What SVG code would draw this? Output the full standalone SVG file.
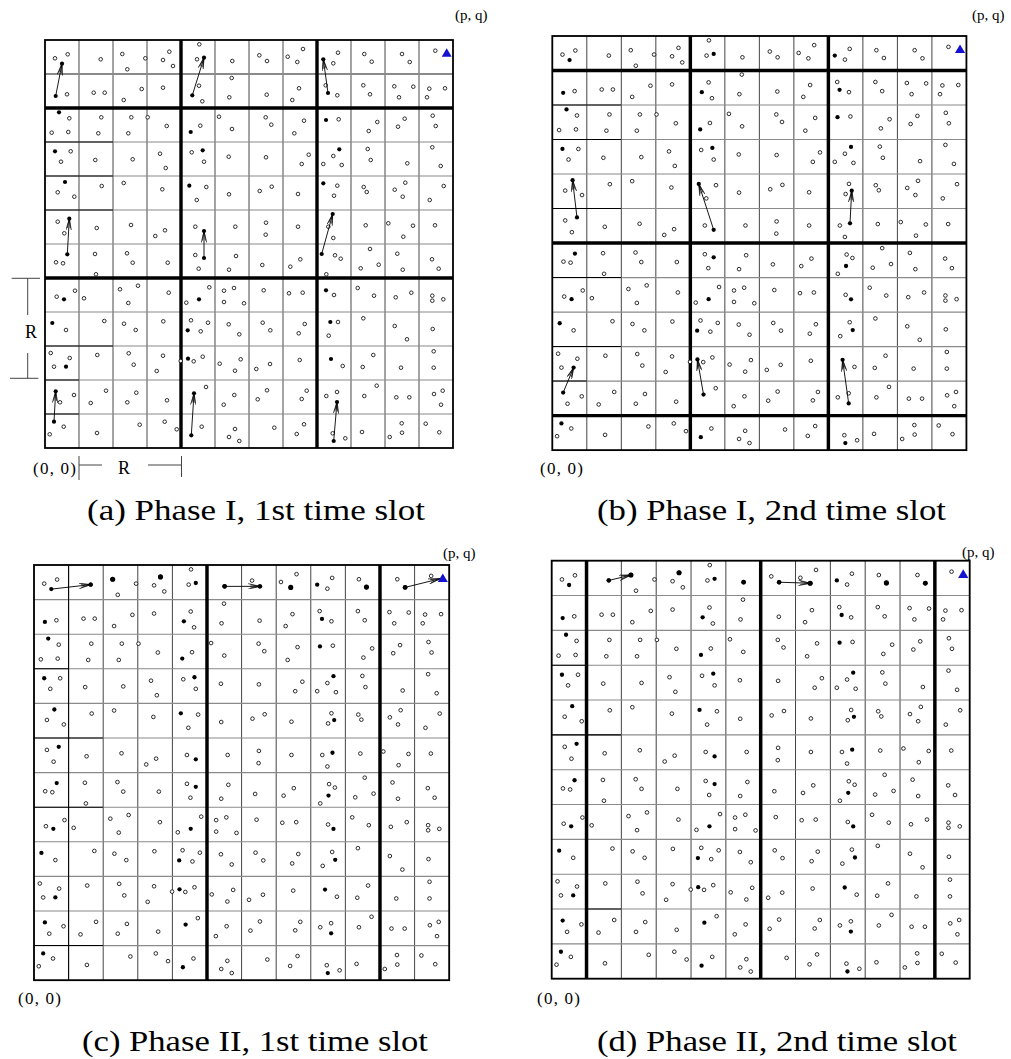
<svg xmlns="http://www.w3.org/2000/svg" xmlns:xlink="http://www.w3.org/1999/xlink" width="1011" height="1059" viewBox="0 0 1011 1059">
<style>
.o{fill:#fff;stroke:#000;stroke-width:0.8}
.f{fill:#000}
.gv{fill:none;stroke:#333;stroke-width:0.9}
.gh{fill:none;stroke:#8a8a8a;stroke-width:1.1}
.bk{fill:none;stroke:#000;stroke-width:1}
.thick{fill:none;stroke:#000;stroke-width:3.4}
.border{fill:none;stroke:#000;stroke-width:1.8}
.arr{fill:none;stroke:#000;stroke-width:0.9;marker-end:url(#ah)}
.tri{fill:#1212d0}
.lbl{font-family:"Liberation Serif",serif;fill:#000}
.cap{font-family:"Liberation Serif",serif;font-size:29px;fill:#000}
.tick{fill:none;stroke:#444;stroke-width:1}
</style>
<defs>
<marker id="ah" viewBox="0 0 12 6" refX="11.5" refY="3" markerWidth="12" markerHeight="6" markerUnits="userSpaceOnUse" orient="auto">
<path d="M0,0.3 L11.5,3 L0,5.7 M2,1.5 L11.5,3 L2,4.5" fill="none" stroke="#000" stroke-width="0.7"/>
</marker>
<path id="gvp" class="gv" d="M34,0V408M68,0V408M102,0V408M136,0V408M170,0V408M204,0V408M238,0V408M272,0V408M306,0V408M340,0V408M374,0V408"/>
<path id="ghp" class="gh" d="M0,34H408M0,68H408M0,102H408M0,136H408M0,170H408M0,204H408M0,238H408M0,272H408M0,306H408M0,340H408M0,374H408"/>
<g id="nodes" class="o">
<circle cx="10" cy="18.3" r="1.8"/><circle cx="22.7" cy="14.3" r="1.8"/><circle cx="55.7" cy="19.3" r="1.8"/><circle cx="77.3" cy="14" r="1.8"/><circle cx="82.3" cy="29.3" r="1.8"/><circle cx="100.3" cy="18.3" r="1.8"/><circle cx="124.3" cy="11.7" r="1.8"/><circle cx="118" cy="20" r="1.8"/><circle cx="128" cy="26" r="1.8"/><circle cx="154.3" cy="4.3" r="1.8"/><circle cx="152" cy="19.3" r="1.8"/><circle cx="187.3" cy="21" r="1.8"/><circle cx="214.3" cy="15.3" r="1.8"/><circle cx="222" cy="21" r="1.8"/><circle cx="242.7" cy="16.7" r="1.8"/><circle cx="258" cy="9" r="1.8"/><circle cx="252.3" cy="22" r="1.8"/><circle cx="293" cy="12.7" r="1.8"/><circle cx="288.3" cy="23.3" r="1.8"/><circle cx="319.3" cy="14" r="1.8"/><circle cx="326.7" cy="21.7" r="1.8"/><circle cx="357" cy="14" r="1.8"/><circle cx="364.7" cy="22" r="1.8"/><circle cx="390.3" cy="10.7" r="1.8"/>
<circle cx="22" cy="54.3" r="1.8"/><circle cx="48.7" cy="52.7" r="1.8"/><circle cx="59.7" cy="52.7" r="1.8"/><circle cx="78.7" cy="60" r="1.8"/><circle cx="96.7" cy="49" r="1.8"/><circle cx="118" cy="47.7" r="1.8"/><circle cx="154" cy="45.7" r="1.8"/><circle cx="157.3" cy="61.3" r="1.8"/><circle cx="186.7" cy="38" r="1.8"/><circle cx="184.3" cy="57.3" r="1.8"/><circle cx="221.7" cy="54.7" r="1.8"/><circle cx="254" cy="48.3" r="1.8"/><circle cx="247.3" cy="60" r="1.8"/><circle cx="280.7" cy="45.3" r="1.8"/><circle cx="292.3" cy="55.3" r="1.8"/><circle cx="318.3" cy="45.3" r="1.8"/><circle cx="325" cy="54.3" r="1.8"/><circle cx="349.3" cy="46.3" r="1.8"/><circle cx="368.3" cy="46.7" r="1.8"/><circle cx="354" cy="57.3" r="1.8"/><circle cx="384.3" cy="48.7" r="1.8"/><circle cx="400" cy="48.3" r="1.8"/><circle cx="382" cy="57.3" r="1.8"/>
<circle cx="24.3" cy="78.3" r="1.8"/><circle cx="6.7" cy="92.7" r="1.8"/><circle cx="23.3" cy="92" r="1.8"/><circle cx="56.3" cy="77.3" r="1.8"/><circle cx="53.3" cy="93.3" r="1.8"/><circle cx="86.3" cy="77.3" r="1.8"/><circle cx="102.7" cy="77.3" r="1.8"/><circle cx="83.3" cy="93.3" r="1.8"/><circle cx="121.7" cy="86" r="1.8"/><circle cx="155.3" cy="85.7" r="1.8"/><circle cx="174" cy="76.7" r="1.8"/><circle cx="187" cy="89" r="1.8"/><circle cx="220.7" cy="77.3" r="1.8"/><circle cx="226.3" cy="84.7" r="1.8"/><circle cx="259" cy="80.7" r="1.8"/><circle cx="249.3" cy="93.3" r="1.8"/><circle cx="293.7" cy="79.3" r="1.8"/><circle cx="332.3" cy="82" r="1.8"/><circle cx="323.7" cy="91" r="1.8"/><circle cx="359.7" cy="78.7" r="1.8"/><circle cx="353" cy="86.7" r="1.8"/><circle cx="387.7" cy="75.7" r="1.8"/><circle cx="390.7" cy="86" r="1.8"/>
<circle cx="25.7" cy="111.3" r="1.8"/><circle cx="16" cy="121.7" r="1.8"/><circle cx="50.3" cy="120" r="1.8"/><circle cx="87.7" cy="119.3" r="1.8"/><circle cx="115" cy="113.7" r="1.8"/><circle cx="120.7" cy="128" r="1.8"/><circle cx="146.7" cy="112.3" r="1.8"/><circle cx="159" cy="121.7" r="1.8"/><circle cx="183.7" cy="116.7" r="1.8"/><circle cx="221" cy="117.3" r="1.8"/><circle cx="263.7" cy="114.7" r="1.8"/><circle cx="256.7" cy="124" r="1.8"/><circle cx="278.3" cy="124" r="1.8"/><circle cx="288.3" cy="116" r="1.8"/><circle cx="296.7" cy="125" r="1.8"/><circle cx="322.7" cy="109" r="1.8"/><circle cx="325.7" cy="120" r="1.8"/><circle cx="362.3" cy="123.3" r="1.8"/><circle cx="387.3" cy="107.3" r="1.8"/><circle cx="395.7" cy="126" r="1.8"/>
<circle cx="12.7" cy="152.3" r="1.8"/><circle cx="29.3" cy="156.7" r="1.8"/><circle cx="56.7" cy="146" r="1.8"/><circle cx="78.7" cy="143" r="1.8"/><circle cx="117.3" cy="149.3" r="1.8"/><circle cx="161.3" cy="147" r="1.8"/><circle cx="151.7" cy="160" r="1.8"/><circle cx="184" cy="154.3" r="1.8"/><circle cx="214.7" cy="151" r="1.8"/><circle cx="226.7" cy="146.7" r="1.8"/><circle cx="253" cy="154" r="1.8"/><circle cx="292.3" cy="145.7" r="1.8"/><circle cx="289" cy="155.7" r="1.8"/><circle cx="318.7" cy="147" r="1.8"/><circle cx="321.7" cy="152" r="1.8"/><circle cx="349.7" cy="149.7" r="1.8"/><circle cx="360.3" cy="142.7" r="1.8"/><circle cx="357.7" cy="156.7" r="1.8"/><circle cx="398.7" cy="146" r="1.8"/><circle cx="384.7" cy="160" r="1.8"/>
<circle cx="12.7" cy="181.7" r="1.8"/><circle cx="19.3" cy="193.3" r="1.8"/><circle cx="51.7" cy="188" r="1.8"/><circle cx="86" cy="185" r="1.8"/><circle cx="110.3" cy="196" r="1.8"/><circle cx="120" cy="190.3" r="1.8"/><circle cx="150.3" cy="186.7" r="1.8"/><circle cx="190.3" cy="186.7" r="1.8"/><circle cx="221" cy="182.7" r="1.8"/><circle cx="220.7" cy="194.7" r="1.8"/><circle cx="253" cy="186.7" r="1.8"/><circle cx="283.3" cy="186.7" r="1.8"/><circle cx="288.3" cy="198" r="1.8"/><circle cx="320.7" cy="185.3" r="1.8"/><circle cx="343.3" cy="183.3" r="1.8"/><circle cx="368" cy="185.7" r="1.8"/><circle cx="358.3" cy="196.7" r="1.8"/><circle cx="390" cy="185.3" r="1.8"/>
<circle cx="11" cy="222.3" r="1.8"/><circle cx="18" cy="223.3" r="1.8"/><circle cx="50" cy="214" r="1.8"/><circle cx="51" cy="234.3" r="1.8"/><circle cx="82" cy="213.3" r="1.8"/><circle cx="87.7" cy="222.7" r="1.8"/><circle cx="122.7" cy="222.7" r="1.8"/><circle cx="150.3" cy="215" r="1.8"/><circle cx="153.7" cy="228.7" r="1.8"/><circle cx="191" cy="216" r="1.8"/><circle cx="184" cy="229.7" r="1.8"/><circle cx="217.3" cy="225" r="1.8"/><circle cx="255.3" cy="219.3" r="1.8"/><circle cx="245.3" cy="226.7" r="1.8"/><circle cx="290" cy="215.3" r="1.8"/><circle cx="295.7" cy="218.7" r="1.8"/><circle cx="281.3" cy="234.3" r="1.8"/><circle cx="325" cy="209" r="1.8"/><circle cx="315.7" cy="228.3" r="1.8"/><circle cx="333.7" cy="224.7" r="1.8"/><circle cx="352.3" cy="213.7" r="1.8"/><circle cx="357.7" cy="229.7" r="1.8"/><circle cx="387" cy="219.3" r="1.8"/><circle cx="393.7" cy="228.7" r="1.8"/>
<circle cx="11.7" cy="256.7" r="1.8"/><circle cx="30" cy="250.7" r="1.8"/><circle cx="39" cy="258.3" r="1.8"/><circle cx="75" cy="249.3" r="1.8"/><circle cx="93" cy="245.7" r="1.8"/><circle cx="83.3" cy="263" r="1.8"/><circle cx="123.7" cy="252.7" r="1.8"/><circle cx="164.3" cy="247.3" r="1.8"/><circle cx="141.3" cy="262.7" r="1.8"/><circle cx="179" cy="250.7" r="1.8"/><circle cx="189" cy="248" r="1.8"/><circle cx="179" cy="262" r="1.8"/><circle cx="199" cy="263.3" r="1.8"/><circle cx="218.7" cy="250.3" r="1.8"/><circle cx="244" cy="253.3" r="1.8"/><circle cx="257.7" cy="252.7" r="1.8"/><circle cx="289" cy="255" r="1.8"/><circle cx="312.7" cy="248" r="1.8"/><circle cx="329" cy="255.7" r="1.8"/><circle cx="350.7" cy="257.3" r="1.8"/><circle cx="366.3" cy="252.7" r="1.8"/><circle cx="387.3" cy="255.7" r="1.8"/><circle cx="387.3" cy="260.7" r="1.8"/><circle cx="398.3" cy="259.3" r="1.8"/>
<circle cx="21" cy="290" r="1.8"/><circle cx="59.3" cy="281" r="1.8"/><circle cx="79" cy="283.7" r="1.8"/><circle cx="90.7" cy="290" r="1.8"/><circle cx="118.3" cy="281.3" r="1.8"/><circle cx="146" cy="280.3" r="1.8"/><circle cx="163" cy="282.7" r="1.8"/><circle cx="155.7" cy="291.3" r="1.8"/><circle cx="183.7" cy="284.3" r="1.8"/><circle cx="194.3" cy="294.3" r="1.8"/><circle cx="217.7" cy="282.7" r="1.8"/><circle cx="225.3" cy="290.3" r="1.8"/><circle cx="259.7" cy="284" r="1.8"/><circle cx="253.7" cy="293.3" r="1.8"/><circle cx="293" cy="282" r="1.8"/><circle cx="283.7" cy="295.7" r="1.8"/><circle cx="318.3" cy="278.3" r="1.8"/><circle cx="349.7" cy="286" r="1.8"/><circle cx="362" cy="299.3" r="1.8"/><circle cx="387.7" cy="289" r="1.8"/>
<circle cx="5.7" cy="313" r="1.8"/><circle cx="24.7" cy="318" r="1.8"/><circle cx="9" cy="326.7" r="1.8"/><circle cx="52.3" cy="315" r="1.8"/><circle cx="83.7" cy="313.3" r="1.8"/><circle cx="88.7" cy="324.7" r="1.8"/><circle cx="118" cy="315.7" r="1.8"/><circle cx="111.7" cy="331" r="1.8"/><circle cx="135.7" cy="321" r="1.8"/><circle cx="148.7" cy="321.3" r="1.8"/><circle cx="157.7" cy="316.7" r="1.8"/><circle cx="174.7" cy="323.7" r="1.8"/><circle cx="195.7" cy="319.3" r="1.8"/><circle cx="190" cy="330.7" r="1.8"/><circle cx="211.3" cy="329" r="1.8"/><circle cx="225" cy="324" r="1.8"/><circle cx="254.7" cy="320" r="1.8"/><circle cx="297.7" cy="326" r="1.8"/><circle cx="328.3" cy="315" r="1.8"/><circle cx="317.7" cy="327" r="1.8"/><circle cx="356" cy="327.7" r="1.8"/><circle cx="388.7" cy="311.3" r="1.8"/><circle cx="388.7" cy="327.7" r="1.8"/>
<circle cx="15" cy="362.3" r="1.8"/><circle cx="29" cy="355" r="1.8"/><circle cx="61" cy="350.7" r="1.8"/><circle cx="45.7" cy="363" r="1.8"/><circle cx="91.3" cy="352.7" r="1.8"/><circle cx="82.3" cy="362.3" r="1.8"/><circle cx="122" cy="360.3" r="1.8"/><circle cx="161" cy="347" r="1.8"/><circle cx="189.3" cy="355" r="1.8"/><circle cx="178.7" cy="364.7" r="1.8"/><circle cx="222" cy="350.3" r="1.8"/><circle cx="212.7" cy="359.3" r="1.8"/><circle cx="261.7" cy="350.7" r="1.8"/><circle cx="256.7" cy="359" r="1.8"/><circle cx="281.3" cy="356" r="1.8"/><circle cx="292" cy="352" r="1.8"/><circle cx="331.7" cy="345.7" r="1.8"/><circle cx="319.3" cy="356" r="1.8"/><circle cx="351.3" cy="357.3" r="1.8"/><circle cx="364.3" cy="357.3" r="1.8"/><circle cx="389" cy="354" r="1.8"/><circle cx="397.7" cy="350.7" r="1.8"/><circle cx="396" cy="364.7" r="1.8"/>
<circle cx="18.7" cy="386.7" r="1.8"/><circle cx="4.7" cy="394.3" r="1.8"/><circle cx="52" cy="393" r="1.8"/><circle cx="94.7" cy="384.7" r="1.8"/><circle cx="119.7" cy="381.7" r="1.8"/><circle cx="131.7" cy="389.3" r="1.8"/><circle cx="156.7" cy="386.7" r="1.8"/><circle cx="190" cy="389" r="1.8"/><circle cx="184" cy="397" r="1.8"/><circle cx="194.3" cy="401" r="1.8"/><circle cx="229.3" cy="387.7" r="1.8"/><circle cx="259" cy="384.3" r="1.8"/><circle cx="251.7" cy="394" r="1.8"/><circle cx="287.7" cy="393.3" r="1.8"/><circle cx="300.3" cy="398.3" r="1.8"/><circle cx="317" cy="392" r="1.8"/><circle cx="356.7" cy="383.3" r="1.8"/><circle cx="357" cy="392.7" r="1.8"/><circle cx="344.7" cy="397" r="1.8"/><circle cx="380.7" cy="383.7" r="1.8"/><circle cx="394.3" cy="392.3" r="1.8"/>
</g>
<g id="fcommon" class="f">
<circle cx="17" cy="23.7" r="2.1"/><circle cx="159" cy="17.7" r="2.1"/><circle cx="278.3" cy="19.3" r="2.1"/>
<circle cx="10.7" cy="56" r="2.1"/><circle cx="147.3" cy="55.3" r="2.1"/><circle cx="283" cy="53" r="2.1"/>
<circle cx="14" cy="72.3" r="2.1"/><circle cx="145.7" cy="92" r="2.1"/><circle cx="281" cy="80" r="2.1"/>
<circle cx="10" cy="111.3" r="2.1"/><circle cx="157.7" cy="110.3" r="2.1"/><circle cx="294.3" cy="109.3" r="2.1"/>
<circle cx="20" cy="142" r="2.1"/><circle cx="144.3" cy="145.7" r="2.1"/>
<circle cx="24.3" cy="178.7" r="2.1"/><circle cx="159" cy="191" r="2.1"/>
<circle cx="22.3" cy="214.3" r="2.1"/><circle cx="159" cy="218" r="2.1"/>
<circle cx="19" cy="259.3" r="2.1"/><circle cx="154" cy="259.3" r="2.1"/>
<circle cx="7.3" cy="283" r="2.1"/><circle cx="142.7" cy="290.3" r="2.1"/>
<circle cx="21" cy="326.7" r="2.1"/><circle cx="143" cy="318.7" r="2.1"/><circle cx="286" cy="319" r="2.1"/>
<circle cx="10.7" cy="351.3" r="2.1"/><circle cx="149" cy="353.3" r="2.1"/><circle cx="292" cy="362" r="2.1"/>
<circle cx="9" cy="381.7" r="2.1"/><circle cx="146.3" cy="395.3" r="2.1"/><circle cx="288.7" cy="401" r="2.1"/>
</g>
<g id="fbcd" class="f">
<circle cx="295" cy="152.4" r="2.1"/><circle cx="293.3" cy="184.5" r="2.1"/><circle cx="289.4" cy="226.6" r="2.1"/><circle cx="294.3" cy="259.4" r="2.1"/><circle cx="296" cy="289.7" r="2.1"/>
</g>
<g id="frow0" class="f">
<circle cx="55.7" cy="19.3" r="2.1"/><circle cx="77.3" cy="14" r="2.5"/><circle cx="124.3" cy="11.7" r="2.5"/><circle cx="187.3" cy="21" r="2.3"/><circle cx="222" cy="21" r="2.2"/><circle cx="252.3" cy="22" r="2.5"/><circle cx="326.7" cy="21.7" r="2.5"/><circle cx="364.7" cy="22" r="2.4"/>
</g>
<polygon id="tri" class="tri" points="396.7,16.8 406.7,16.8 401.7,8.3"/>
</defs>

<g id="panel-a" transform="translate(45,40)">
<use href="#gvp"/><use href="#ghp"/>
<path d="M0,34H408" fill="none" stroke="#8a8a8a" stroke-width="2.2"/>
<path class="bk" d="M0,102H68M0,136H68M0,170H68M0,306H68M0,340H34M0,374H34"/>
<path class="thick" d="M136,0V408M272,0V408M0,68H408M0,238H408"/>
<rect class="border" x="0" y="0" width="408" height="408"/>
<use href="#nodes"/>
<g id="connectors-a">
<line class="arr" x1="10.7" y1="56" x2="17" y2="23.7"/>
<line class="arr" x1="147.3" y1="55.3" x2="159" y2="17.7"/>
<line class="arr" x1="283" y1="53" x2="278.3" y2="19.3"/>
<line class="arr" x1="22.3" y1="214.3" x2="24.3" y2="178.7"/>
<line class="arr" x1="159" y1="218" x2="159" y2="191"/>
<line class="arr" x1="276.7" y1="214" x2="287.7" y2="174"/>
<line class="arr" x1="9" y1="381.7" x2="10.7" y2="351.3"/>
<line class="arr" x1="146.3" y1="395.3" x2="149" y2="353.3"/>
<line class="arr" x1="288.7" y1="401" x2="292" y2="362"/>
</g>
<use href="#fcommon"/>
<g class="f"><circle cx="278.3" cy="143.3" r="2.1"/><circle cx="287.7" cy="174" r="2.1"/><circle cx="276.7" cy="214" r="2.1"/><circle cx="281" cy="250.3" r="2.1"/><circle cx="285.3" cy="282" r="2.1"/></g>
<use href="#tri"/>
</g>

<g id="panel-b" transform="translate(552.3,36) scale(1.015)">
<use href="#gvp"/><use href="#ghp"/>
<path class="bk" d="M0,68H68M0,102H68M0,170H68M0,238H68M0,306H68M0,340H34"/>
<path class="thick" d="M136,0V408M272,0V408M0,34H408M0,204H408M0,374H408"/>
<rect class="border" x="0" y="0" width="408" height="408"/>
<use href="#nodes"/>
<g id="connectors-b">
<line class="arr" x1="24.3" y1="178.7" x2="20" y2="142"/>
<line class="arr" x1="159" y1="191" x2="144.3" y2="145.7"/>
<line class="arr" x1="293.3" y1="184.5" x2="295" y2="152.4"/>
<line class="arr" x1="10.7" y1="351.3" x2="21" y2="326.7"/>
<line class="arr" x1="149" y1="353.3" x2="143" y2="318.7"/>
<line class="arr" x1="292" y1="362" x2="286" y2="319"/>
</g>
<use href="#fcommon"/><use href="#fbcd"/>
<use href="#tri"/>
</g>

<g id="panel-c" transform="translate(34,565) scale(1.0176)">
<use href="#gvp"/><use href="#ghp"/>
<path class="bk" d="M34,0V408M0,102H34M0,170H68M0,238H68M0,374H68"/>
<path class="thick" d="M170,0V408M340,0V408"/>
<rect class="border" x="0" y="0" width="408" height="408"/>
<use href="#nodes"/>
<g id="connectors-c">
<line class="arr" x1="17" y1="23.7" x2="55.7" y2="19.3"/>
<line class="arr" x1="187.3" y1="21" x2="222" y2="21"/>
<line class="arr" x1="364.7" y1="22" x2="399" y2="13.5"/>
</g>
<use href="#fcommon"/><use href="#fbcd"/><use href="#frow0"/>
<use href="#tri"/>
</g>

<g id="panel-d" transform="translate(551.7,560.7) scale(1.0245)">
<use href="#gvp"/><use href="#ghp"/>
<path class="bk" d="M0,102H34M0,170H68M34,340H68"/>
<path class="thick" d="M34,0V408M204,0V408M374,0V408"/>
<rect class="border" x="0" y="0" width="408" height="408"/>
<use href="#nodes"/>
<g id="connectors-d">
<line class="arr" x1="55.7" y1="19.3" x2="77.3" y2="14"/>
<line class="arr" x1="222" y1="21" x2="252.3" y2="22"/>
</g>
<use href="#fcommon"/><use href="#fbcd"/><use href="#frow0"/>
<use href="#tri"/>
</g>

<g id="markers-R">
<path class="tick" d="M79,456V480M79,465H102M148,465H181.5M181.5,456V477"/>
<path class="tick" d="M11.7,278.3H40M27.7,278.3V315M27.7,353V378.3M10,378.3H38.3"/>
<text class="lbl" x="118" y="474" font-size="18">R</text>
<text class="lbl" x="25" y="338" font-size="18">R</text>
</g>

<g id="labels">
<text class="lbl" x="455" y="20" font-size="15">(p, q)</text>
<text class="lbl" x="972" y="20" font-size="15">(p, q)</text>
<text class="lbl" x="443" y="558" font-size="15">(p, q)</text>
<text class="lbl" x="962" y="557" font-size="15">(p, q)</text>
<text class="lbl" x="33" y="474" font-size="17" textLength="43">(0, 0)</text>
<text class="lbl" x="540" y="474" font-size="17" textLength="43">(0, 0)</text>
<text class="lbl" x="18" y="1004" font-size="17" textLength="43">(0, 0)</text>
<text class="lbl" x="537" y="1004" font-size="17" textLength="43">(0, 0)</text>
<text class="cap" x="87" y="520" textLength="338" lengthAdjust="spacingAndGlyphs">(a) Phase I, 1st time slot</text>
<text class="cap" x="597" y="520" textLength="349" lengthAdjust="spacingAndGlyphs">(b) Phase I, 2nd time slot</text>
<text class="cap" x="82" y="1051" textLength="346" lengthAdjust="spacingAndGlyphs">(c) Phase II, 1st time slot</text>
<text class="cap" x="597" y="1051" textLength="360" lengthAdjust="spacingAndGlyphs">(d) Phase II, 2nd time slot</text>
</g>
</svg>
